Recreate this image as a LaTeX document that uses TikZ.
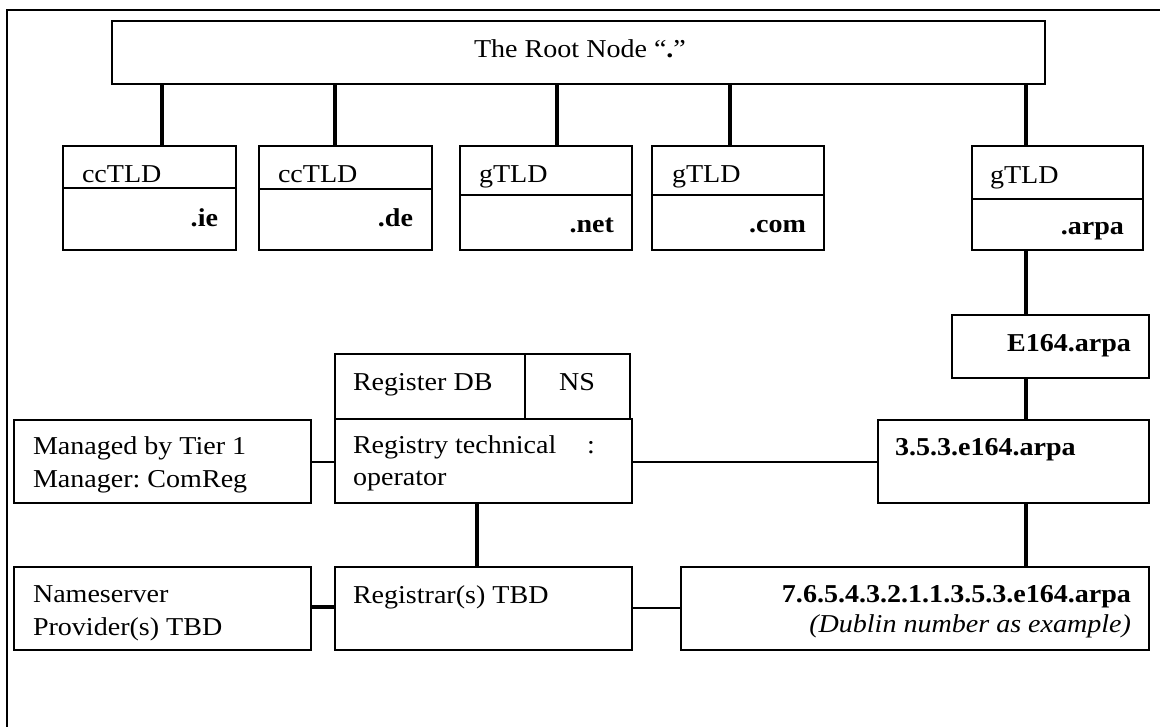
\documentclass[tikz,border=0pt]{standalone}
\usepackage{fontspec}
\setmainfont{Liberation Serif}[FakeStretch=1.09]
\usetikzlibrary{fit}
\frenchspacing

\tikzset{
  boxst/.style={draw, line width=1.3pt, inner sep=0pt, outer sep=0pt},
  trunk link/.style={line width=2.6pt},
  side link/.style={line width=1pt},
  lbl/.style={inner sep=0pt, outer sep=0pt, font=\fontsize{19.3pt}{24.75pt}\selectfont},
}
% rectangle node from two corners: name, x1, y1, x2, y2
\newcommand\rbox[5]{%
  \path (#2,#3) coordinate (#1-nw) (#4,#5) coordinate (#1-se);
  \node[boxst, fit=(#1-nw)(#1-se)] (#1) {};}

\begin{document}
\begin{tikzpicture}[x=0.75pt, y=-0.75pt]
\useasboundingbox (0,0) rectangle (1160,726);
\clip (0,0) rectangle (1160,726);

% outer frame
\draw[line width=2pt] (7,740) -- (7,10) -- (1175,10);

% root
\rbox{root}{112}{21}{1045}{84}
\node[lbl, anchor=base] (roottxt) at (580,57) {The Root Node “\textbf{.}”};

% top-level domains
\rbox{ietop}{63}{146}{236}{188}    \rbox{ie}{63}{188}{236}{250}
\rbox{detop}{259}{146}{432}{189}   \rbox{de}{259}{189}{432}{250}
\rbox{nettop}{460}{146}{632}{195}  \rbox{net}{460}{195}{632}{250}
\rbox{comtop}{652}{146}{824}{195}  \rbox{com}{652}{195}{824}{250}
\rbox{arpatop}{972}{146}{1143}{199} \rbox{arpa}{972}{199}{1143}{250}

\node[lbl, anchor=base west] (ietxt)  at (82,182)  {ccTLD};
\node[lbl, anchor=base east] (iename) at (218,226) {\textbf{.ie}};
\node[lbl, anchor=base west] (detxt)  at (278,182) {ccTLD};
\node[lbl, anchor=base east] (dename) at (413,226) {\textbf{.de}};
\node[lbl, anchor=base west] (nettxt) at (479,182) {gTLD};
\node[lbl, anchor=base east] (netname) at (614,232) {\textbf{.net}};
\node[lbl, anchor=base west] (comtxt) at (672,182) {gTLD};
\node[lbl, anchor=base east] (comname) at (806,232) {\textbf{.com}};
\node[lbl, anchor=base west] (arpatxt) at (990,183) {gTLD};
\node[lbl, anchor=base east] (arpaname) at (1124,234) {\textbf{.arpa}};

% ENUM chain
\rbox{e164}{952}{315}{1149}{378}
\node[lbl, anchor=base east] (e164txt) at (1131,351) {\textbf{E164.arpa}};
\rbox{zone}{878}{420}{1149}{503}
\node[lbl, anchor=base west] (zonetxt) at (895,455) {\textbf{3.5.3.e164.arpa}};
\rbox{full}{681}{567}{1149}{650}
\node[lbl, anchor=base east] (fulltxt) at (1131,602) {\textbf{7.6.5.4.3.2.1.1.3.5.3.e164.arpa}};
\node[lbl, anchor=base east] (fullnote) at (1131,632) {\textit{(Dublin number as example)}};

% registry side
\rbox{regdb}{335}{354}{525}{419}
\rbox{ns}{525}{354}{630}{419}
\rbox{registry}{335}{419}{632}{503}
\node[lbl, anchor=base west] (regdbtxt) at (353,390) {Register DB};
\node[lbl, anchor=base] (nstxt) at (577,390) {NS};
\node[lbl, anchor=base west] (regtxta) at (353,453) {Registry technical};
\node[lbl, anchor=base west] (regcolon) at (587,453) {:};
\node[lbl, anchor=base west] (regtxtb) at (353,485) {operator};

\rbox{managed}{14}{420}{311}{503}
\node[lbl, anchor=base west] (mantxta) at (33,454) {Managed by Tier 1};
\node[lbl, anchor=base west] (mantxtb) at (33,487) {Manager: ComReg};

\rbox{nsprov}{14}{567}{311}{650}
\node[lbl, anchor=base west] (nsptxta) at (33,602) {Nameserver};
\node[lbl, anchor=base west] (nsptxtb) at (33,635) {Provider(s) TBD};

\rbox{registrar}{335}{567}{632}{650}
\node[lbl, anchor=base west] (rartxt) at (353,603) {Registrar(s) TBD};

% connector positions
\coordinate (cx1) at (162,0);
\coordinate (cx2) at (335,0);
\coordinate (cx3) at (557,0);
\coordinate (cx4) at (730,0);
\coordinate (cx5) at (1026,0);
\coordinate (cx6) at (477,0);
\coordinate (cy1) at (0,462);
\coordinate (cy2) at (0,607);
\coordinate (cy3) at (0,608);

% connectors
\draw[trunk link] (root.south -| cx1) -- (ietop.north -| cx1);
\draw[trunk link] (root.south -| cx2) -- (detop.north -| cx2);
\draw[trunk link] (root.south -| cx3) -- (nettop.north -| cx3);
\draw[trunk link] (root.south -| cx4) -- (comtop.north -| cx4);
\draw[trunk link] (root.south -| cx5) -- (arpatop.north -| cx5);
\draw[trunk link] (arpa.south -| cx5) -- (e164.north -| cx5);
\draw[trunk link] (e164.south -| cx5) -- (zone.north -| cx5);
\draw[trunk link] (zone.south -| cx5) -- (full.north -| cx5);
\draw[trunk link] (registry.south -| cx6) -- (registrar.north -| cx6);
\draw[side link] (managed.east |- cy1) -- (registry.west |- cy1);
\draw[side link] (registry.east |- cy1) -- (zone.west |- cy1);
\draw[trunk link] (nsprov.east |- cy2) -- (registrar.west |- cy2);
\draw[side link] (registrar.east |- cy3) -- (full.west |- cy3);
\end{tikzpicture}
\end{document}
